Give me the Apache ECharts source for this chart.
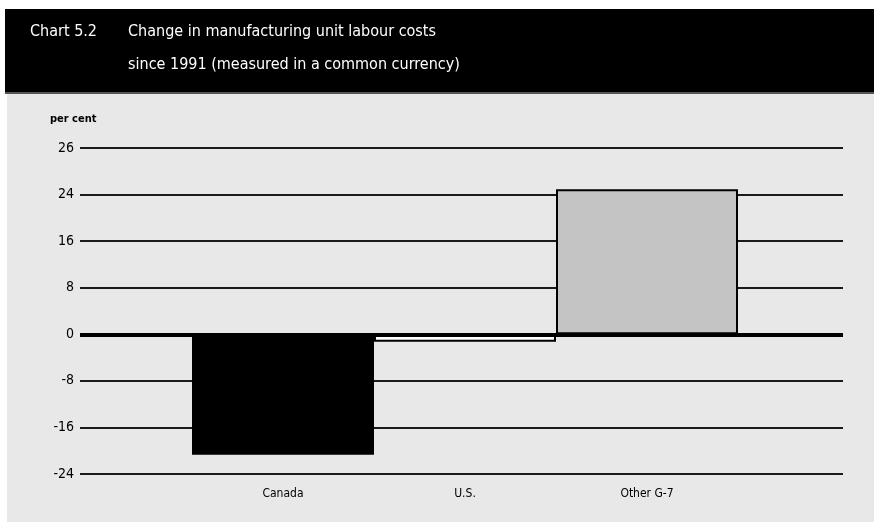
<!DOCTYPE html>
<html>
<head>
<meta charset="utf-8">
<script src="https://cdn.jsdelivr.net/npm/echarts@6/dist/echarts.min.js"></script>
<style>
  html, body { margin: 0; padding: 0; background: #fff; }
  #chart { width: 874px; height: 522px; }
</style>
</head>
<body>
<div id="chart"></div>
<script>
// data
var countries = ['Canada', 'U.S.', 'Other G-7']
var costChange = [-20.7, -1.3, 24.9]
var barColors = ['#000000', '#ffffff', '#c4c4c4']
var tickLabels = ['-24', '-16', '-8', '0', '8', '16', '24', '26']

var chart = echarts.init(document.getElementById('chart'))

chart.setOption({
  backgroundColor: '#fff',
  animation: false,
  graphic: [
    { type: 'rect', shape: { x: 7, y: 93, width: 867, height: 429 }, style: { fill: '#e8e8e8' }, z: -10 },
    { type: 'rect', shape: { x: 5, y: 9, width: 869, height: 84 }, style: { fill: '#000' } },
    { type: 'rect', shape: { x: 5, y: 92, width: 869, height: 2 }, style: { fill: '#555' } },
    { type: 'text', left: 30, top: 24, style: { text: 'Chart 5.2', fill: '#fff', font: '16px "DejaVu Sans Condensed"' } },
    { type: 'text', left: 128, top: 24, style: { text: 'Change in manufacturing unit labour costs', fill: '#fff', font: '16px "DejaVu Sans Condensed"' } },
    { type: 'text', left: 128, top: 57, style: { text: 'since 1991 (measured in a common currency)', fill: '#fff', font: '16px "DejaVu Sans Condensed"' } },
    { type: 'text', left: 50, top: 114, style: { text: 'per cent', fill: '#000', font: 'bold 11px "DejaVu Sans Condensed"' } }
  ],
  grid: [
    { left: 80, right: 31, top: 148, bottom: 48 },
    { left: 192, right: 136, top: 148, bottom: 48 }
  ],
  xAxis: [
    { gridIndex: 0, type: 'value', show: false, min: 0, max: 1 },
    {
      gridIndex: 1,
      type: 'category',
      data: countries,
      axisLine: { show: false },
      axisTick: { show: false },
      axisLabel: { color: '#000', fontSize: 12, fontFamily: 'DejaVu Sans Condensed', margin: 14 }
    }
  ],
  yAxis: [
    {
      gridIndex: 0,
      type: 'value',
      min: -24,
      max: 32,
      interval: 8,
      axisLine: { show: false },
      axisTick: { show: false },
      axisLabel: {
        color: '#000',
        fontSize: 14,
        fontFamily: 'DejaVu Sans Condensed',
        margin: 6,
        formatter: function (v) { return tickLabels[(v + 24) / 8] }
      },
      splitLine: { lineStyle: { color: '#1a1a1a', width: 2 } }
    },
    { gridIndex: 1, type: 'value', min: -24, max: 32, interval: 8, show: false, splitLine: { show: false } }
  ],
  series: [
    {
      type: 'bar',
      xAxisIndex: 1,
      yAxisIndex: 1,
      barCategoryGap: 0,
      data: costChange.map(function (v, i) {
        return { value: v, itemStyle: { color: barColors[i] } }
      }),
      itemStyle: { borderColor: '#000', borderWidth: 2 },
      z: 2
    },
    {
      type: 'line',
      xAxisIndex: 0,
      yAxisIndex: 0,
      data: [],
      markLine: {
        silent: true,
        symbol: 'none',
        label: { show: false },
        lineStyle: { color: '#000', width: 4, type: 'solid' },
        data: [{ yAxis: 0 }]
      },
      z: 3
    }
  ]
})
</script>
</body>
</html>
